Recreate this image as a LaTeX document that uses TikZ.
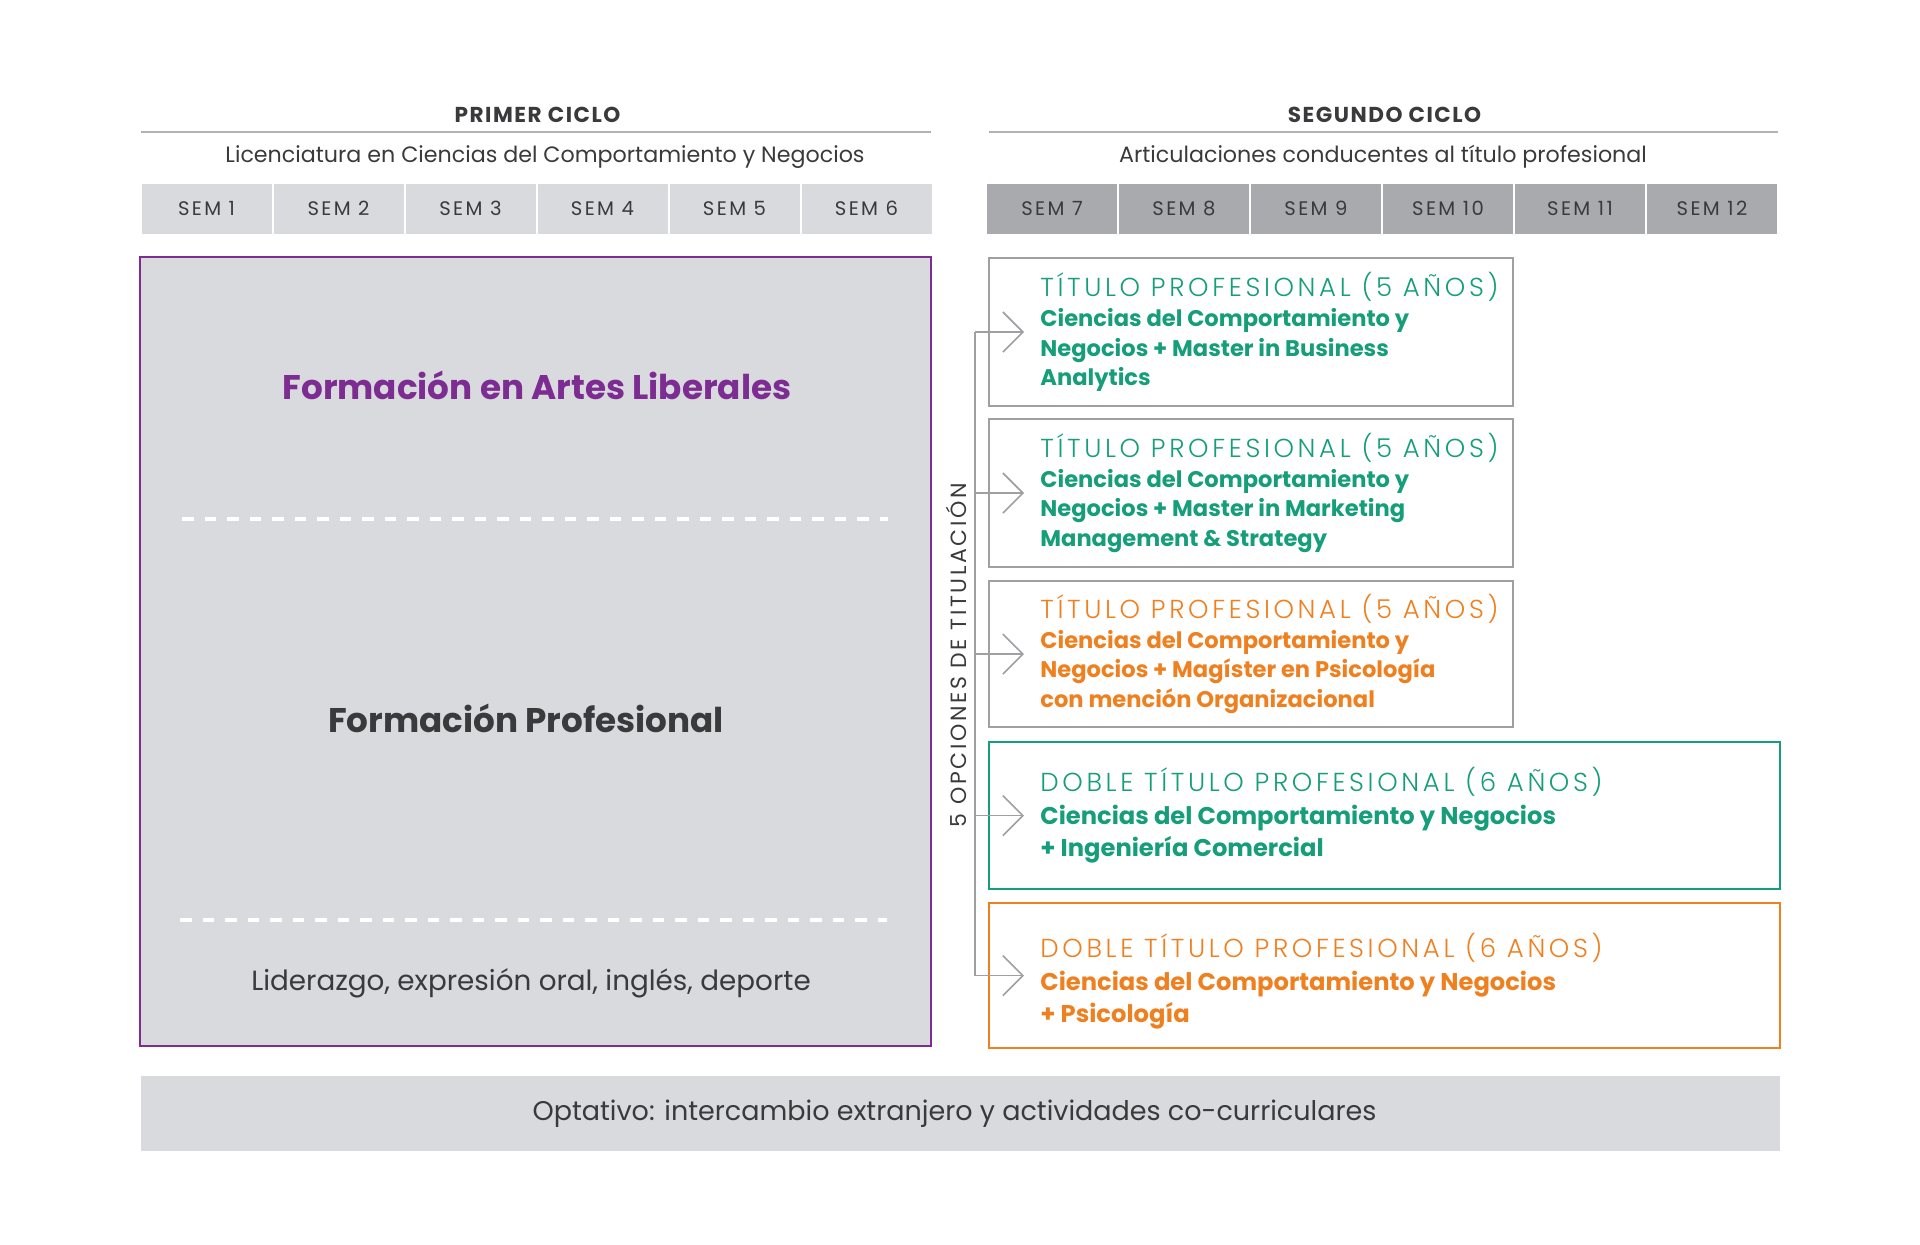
\documentclass[tikz,border=0pt]{standalone}
\usepackage{fontspec}
\setmainfont{Poppins}
\newfontfamily\ancho[LetterSpace=12]{Poppins}
\newfontfamily\anchob[LetterSpace=7]{Poppins}
\newfontfamily\titulo[LetterSpace=14]{Poppins Light}
\usetikzlibrary{arrows.meta,positioning}
\definecolor{lila}{RGB}{125,45,145}
\definecolor{verde}{RGB}{22,158,122}
\definecolor{naranja}{RGB}{239,128,32}
\definecolor{gris}{RGB}{217,218,222}
\definecolor{grisosc}{RGB}{169,170,174}
\definecolor{linea}{RGB}{160,160,163}
\definecolor{texto}{RGB}{58,58,60}
\tikzset{
  ciclo/.style={anchor=base,text=texto,font=\anchob\bfseries\fontsize{10.8}{12}\selectfont},
  sub/.style={anchor=base,text=texto,font=\fontsize{11.1}{13}\selectfont},
  regla/.style={draw=linea!80,line width=0.7pt},
  sem/.style={minimum width=65pt,minimum height=25pt,inner sep=0pt,text height=6.9pt,text depth=0pt,text=texto,font=\ancho\fontsize{9.8}{11}\selectfont},
  panel/.style={draw=lila,fill=gris,line width=1pt,minimum width=395.5pt,minimum height=394.5pt},
  fbig/.style={anchor=base,font=\bfseries\fontsize{17.1}{20}\selectfont},
  fmed/.style={anchor=base,text=texto,font=\fontsize{13.9}{16}\selectfont},
  corte/.style={draw=white,line width=2pt,dash pattern=on 5.75pt off 5.5pt},
  vert/.style={rotate=90,text=texto,font=\ancho\fontsize{11}{13}\selectfont},
  opt/.style={line width=1pt,minimum width=261.75pt,inner sep=0pt},
  otxt/.style={anchor=west,align=left,inner sep=0pt,font=\bfseries\fontsize{11.3}{14.9}\selectfont},
  otxtb/.style={anchor=west,align=left,inner sep=0pt,font=\bfseries\fontsize{12.1}{16.2}\selectfont},
  tronco/.style={draw=linea,line width=1pt},
  flecha/.style={draw=linea,line width=0.8pt,-{Straight Barb[length=10pt,width=20pt]}},
  banda/.style={fill=gris,minimum width=819.5pt,minimum height=37.5pt},
  bandatxt/.style={text=texto,font=\fontsize{13.5}{16}\selectfont}
}
\begin{document}
\begin{tikzpicture}[x=0.5pt,y=-0.5pt]
\useasboundingbox (0,0) rectangle (1920,1244);
\node[ciclo] (c1) at (537.5,122) {PRIMER CICLO};
\node[ciclo] (c2) at (1384.5,122) {SEGUNDO CICLO};
\draw[regla] (141,132) -- (931,132);
\draw[regla] (989,132) -- (1778,132);
\node[sub] (l1) at (545,162) {Licenciatura en Ciencias del Comportamiento y Negocios};
\node[sub] (l2) at (1383,162) {Articulaciones conducentes al título profesional};
\foreach \i in {1,...,6}
  \node[sem,fill=gris] (s\i) at ({206.5+(\i-1)*132},209) {SEM \i};
\foreach \i in {7,...,12}
  \node[sem,fill=grisosc] (s\i) at ({1052+(\i-7)*132},209) {SEM \i};

\node[panel] (fp) at (535.5,651.5) {};
\node[fbig,text=lila] (fal) at (537,399) {Formación en Artes Liberales};
\draw[corte] (182,519) -- (888,519);
\node[fbig,text=texto] (fpro) at (526,732) {Formación Profesional};
\draw[corte] (180,920) -- (887,920);
\node[fmed] (lid) at (531,990) {Liderazgo, expresión oral, inglés, deporte};

\node[vert] (op) at (956,655) {5 OPCIONES DE TITULACIÓN};

\node[opt,draw=linea,minimum height=74pt] (o1) at (1250.75,332) {};
\node[opt,draw=linea,minimum height=74pt] (o2) at (1250.75,493) {};
\node[opt,draw=linea,minimum height=73pt] (o3) at (1250.75,654) {};
\node[opt,draw=verde,minimum width=395.5pt,minimum height=73.5pt] (o4) at (1384.5,815.5) {};
\node[opt,draw=naranja,minimum width=395.5pt,minimum height=72.5pt] (o5) at (1384.5,975.5) {};

\node[otxt,text=verde] (t1) at ([xshift=26pt]o1.west) {{\titulo\mdseries\fontsize{13}{14.9}\selectfont TÍTULO PROFESIONAL (5 AÑOS)}\\Ciencias del Comportamiento y\\Negocios + Master in Business\\Analytics};
\node[otxt,text=verde] (t2) at ([xshift=26pt]o2.west) {{\titulo\mdseries\fontsize{13}{14.9}\selectfont TÍTULO PROFESIONAL (5 AÑOS)}\\Ciencias del Comportamiento y\\Negocios + Master in Marketing\\Management \& Strategy};
\node[otxt,text=naranja] (t3) at ([xshift=26pt]o3.west) {{\titulo\mdseries\fontsize{13}{14.9}\selectfont TÍTULO PROFESIONAL (5 AÑOS)}\\Ciencias del Comportamiento y\\Negocios + Magíster en Psicología\\con mención Organizacional};
\node[otxtb,text=verde] (t4) at ([xshift=26pt]o4.west) {{\titulo\mdseries\fontsize{13}{16.2}\selectfont DOBLE TÍTULO PROFESIONAL (6 AÑOS)}\\Ciencias del Comportamiento y Negocios\\+ Ingeniería Comercial};
\node[otxtb,text=naranja] (t5) at ([xshift=26pt,yshift=-3pt]o5.west) {{\titulo\mdseries\fontsize{13}{16.2}\selectfont DOBLE TÍTULO PROFESIONAL (6 AÑOS)}\\Ciencias del Comportamiento y Negocios\\+ Psicología};

\coordinate (tr) at (975,0);
\draw[tronco] (o1.west -| tr) -- (o5.west -| tr);
\foreach \k in {1,...,5}
  \draw[flecha] (o\k.west -| tr) -- ([xshift=18pt]o\k.west);

\node[banda] (ex) at (960.5,1113.5) {};
\node[bandatxt] (extxt) at ([xshift=-3pt]ex.center) {Optativo: intercambio extranjero y actividades co-curriculares};
\end{tikzpicture}
\end{document}
